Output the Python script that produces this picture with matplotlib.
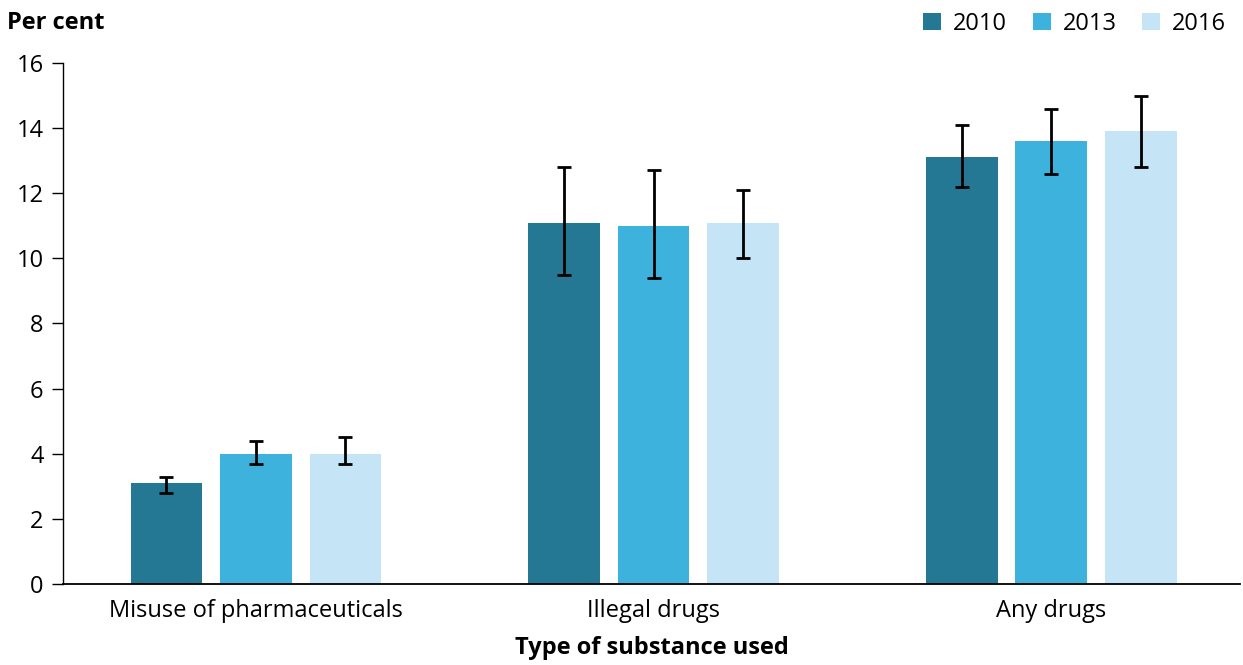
import numpy as np
import matplotlib
matplotlib.use("Agg")
import matplotlib.pyplot as plt

plt.rcParams['font.family'] = ['Open Sans', 'DejaVu Sans']

categories = ["Misuse of pharmaceuticals", "Illegal drugs", "Any drugs"]
years = ["2010", "2013", "2016"]
colors = ["#247893", "#3db2dd", "#c5e5f7"]

values = {
    "2010": [3.1, 11.1, 13.1],
    "2013": [4.0, 11.0, 13.6],
    "2016": [4.0, 11.1, 13.9],
}
err_low = {
    "2010": [2.8, 9.5, 12.2],
    "2013": [3.7, 9.4, 12.6],
    "2016": [3.7, 10.0, 12.8],
}
err_high = {
    "2010": [3.3, 12.8, 14.1],
    "2013": [4.4, 12.7, 14.6],
    "2016": [4.5, 12.1, 15.0],
}

fig = plt.figure(figsize=(12.43, 6.65), dpi=100)
ax = fig.add_axes([0.0507, 0.1218, 0.947, 0.7835])

x = np.arange(len(categories))
width = 0.18
step = 0.225
for i, yr in enumerate(years):
    v = np.array(values[yr])
    lo = v - np.array(err_low[yr])
    hi = np.array(err_high[yr]) - v
    ax.bar(x + (i - 1) * step, v, width, color=colors[i], label=yr, zorder=2)
    ax.errorbar(x + (i - 1) * step, v, yerr=[lo, hi], fmt='none', ecolor='black',
                elinewidth=2, capsize=5, capthick=2, zorder=3)

ax.set_xlim(-0.485, 2.475)
ax.set_ylim(0, 16)
ax.set_yticks(range(0, 17, 2))
ax.set_xticks(x)
ax.set_xticklabels(categories)
ax.tick_params(axis='x', length=0, labelsize=17, pad=11)
ax.tick_params(axis='y', length=8, width=1, labelsize=17, pad=6)
for s in ['top', 'right']:
    ax.spines[s].set_visible(False)
ax.spines['bottom'].set_linewidth(1.3)
ax.spines['left'].set_linewidth(1)

ax.set_xlabel("Type of substance used", fontsize=17, fontweight='bold', labelpad=9)
fig.text(0.006, 0.965, "Per cent", fontsize=17, fontweight='bold', va='center', ha='left')

leg = ax.legend(loc='upper right', bbox_to_anchor=(1.0, 1.125), ncol=3, frameon=False,
                fontsize=17, handlelength=0.75, handleheight=0.75, handletextpad=0.5,
                columnspacing=1.1, borderaxespad=0.2)

fig.savefig("out.png", dpi=100)
